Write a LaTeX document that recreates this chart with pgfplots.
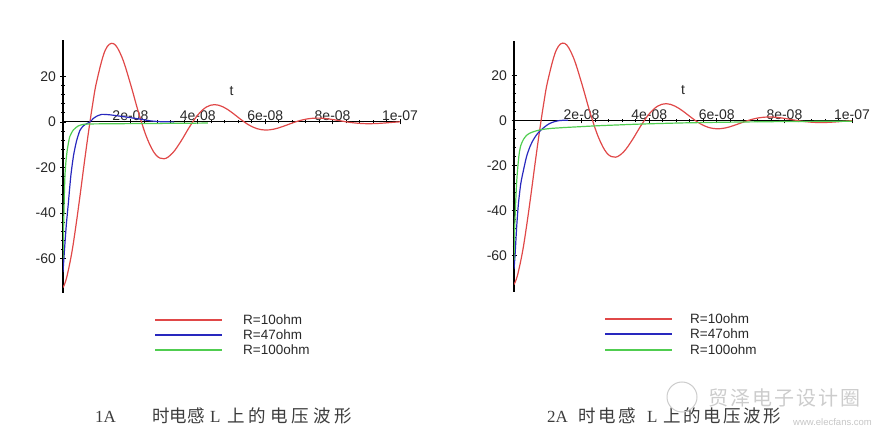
\documentclass[border=0pt]{standalone}
\usepackage{fontspec}
\setmainfont{Liberation Serif}
\newfontfamily\arial{Liberation Sans}
\newfontfamily\cjk{Noto Sans CJK SC}
\usepackage{pgfplots}
\usepackage{pgfplotstable}
\pgfplotsset{compat=1.18}

\definecolor{cred}{RGB}{224,72,72}
\definecolor{cblue}{RGB}{40,40,190}
\definecolor{cgreen}{RGB}{80,205,80}
\definecolor{txt}{RGB}{40,40,40}
\definecolor{capc}{RGB}{60,60,60}

% R = 10 ohm (same curve in both plots), t in s, v in V
\pgfplotstableread{
t v
0 -72.8
0.1e-8 -68.9
0.25e-8 -58.4
0.375e-8 -46.5
0.5e-8 -33.0
0.625e-8 -18.8
0.75e-8 -5.2
0.875e-8 7.3
1.0e-8 17.8
1.25e-8 31.4
1.5e-8 34.4
1.75e-8 28.4
2.0e-8 16.8
2.25e-8 3.7
2.5e-8 -7.4
2.75e-8 -14.4
3.0e-8 -16.2
3.25e-8 -13.7
3.5e-8 -8.5
3.75e-8 -2.3
4.0e-8 3.05
4.25e-8 6.5
4.5e-8 7.6
4.75e-8 6.6
5.0e-8 4.27
5.25e-8 1.38
5.5e-8 -1.22
5.75e-8 -2.94
6.0e-8 -3.57
6.25e-8 -3.2
6.5e-8 -2.13
6.75e-8 -0.78
7.0e-8 0.47
7.25e-8 1.32
7.5e-8 1.67
7.75e-8 1.54
8.0e-8 1.06
8.25e-8 0.43
8.5e-8 -0.17
8.75e-8 -0.59
9.0e-8 -0.78
9.25e-8 -0.74
9.5e-8 -0.53
9.75e-8 -0.23
10.0e-8 0.05
}\redR

% case 1A
\pgfplotstableread{
t v
0 -66
0.05e-8 -55
0.1e-8 -45
0.16e-8 -35.5
0.23e-8 -24
0.31e-8 -15
0.4e-8 -8.5
0.5e-8 -3.8
0.6e-8 -1.8
0.7e-8 -0.8
0.8e-8 0
0.9e-8 1.5
1.0e-8 2.5
1.15e-8 3.3
1.4e-8 3.1
1.8e-8 2.3
2.3e-8 1.2
2.6e-8 0.45
2.9e-8 0.1
3.3e-8 0
}\blueA

\pgfplotstableread{
t v
0 -60
0.02e-8 -45
0.04e-8 -32
0.06e-8 -23
0.09e-8 -17
0.13e-8 -12
0.2e-8 -6.5
0.31e-8 -3.5
0.45e-8 -1.8
0.6e-8 -1.1
0.8e-8 -0.9
1.5e-8 -0.8
2.5e-8 -0.7
3.5e-8 -0.6
4.3e-8 -0.5
}\greenA

% case 2A
\pgfplotstableread{
t v
0 -66
0.03e-8 -60
0.08e-8 -47
0.13e-8 -37
0.2e-8 -28
0.28e-8 -22
0.37e-8 -16
0.47e-8 -11.6
0.57e-8 -8.5
0.67e-8 -6.2
0.77e-8 -4.5
0.87e-8 -3.2
0.97e-8 -2.0
1.07e-8 -1.1
1.2e-8 -0.4
1.3e-8 0
1.45e-8 0.2
1.6e-8 0.2
}\blueB

\pgfplotstableread{
t v
0 -62
0.02e-8 -48
0.05e-8 -36
0.08e-8 -27
0.11e-8 -21
0.15e-8 -15
0.2e-8 -11
0.28e-8 -8.3
0.37e-8 -6.5
0.47e-8 -5.5
0.57e-8 -4.9
0.7e-8 -4.3
0.87e-8 -3.8
1.1e-8 -3.4
1.5e-8 -3.0
2.0e-8 -2.6
2.5e-8 -2.2
3.0e-8 -1.9
3.5e-8 -1.6
4.0e-8 -1.35
5.0e-8 -0.95
6.0e-8 -0.7
7.0e-8 -0.5
8.0e-8 -0.35
9.0e-8 -0.25
10.0e-8 -0.18
}\greenB

\pgfplotsset{
  maple/.style={
    scale only axis,
    axis lines=middle,
    anchor=south west,
    xmin=0, xmax=1e-7,
    scaled x ticks=false,
    xtick={2e-8,4e-8,6e-8,8e-8,1e-7},
    xticklabels={2e-08,4e-08,6e-08,8e-08,1e-07},
    ytick={-60,-40,-20,0,20},
    yticklabels={-60,-40,-20,0,20},
    minor x tick num=4,
    minor y tick num=4,
    tick align=center,
    major tick length=5bp,
    minor tick length=3bp,
    axis line style={-, black, line width=1.1bp},
    every inner x axis line/.append style={-},
    every inner y axis line/.append style={-},
    every tick/.style={black, line width=0.7bp},
    hide obscured x ticks=false,
    hide obscured y ticks=false,
    ticklabel style={font=\arial\fontsize{14bp}{16bp}\selectfont, text=txt},
    xticklabel style={anchor=south},
    yticklabel style={anchor=east, xshift=-1bp},
    xlabel={t},
    xlabel style={at={(axis cs:5e-8,0)}, anchor=base, yshift=26bp,
      font=\arial\fontsize{14bp}{16bp}\selectfont, text=txt},
  },
  curve/.style={line width=1.2bp, smooth, tension=0.6, no marks},
  steep/.style={line width=1.2bp, smooth, tension=0.4, no marks},
}

% legend key: #1 colour, #2 left x of line, #3 line y, #4 text x, #5 label
\newcommand\key[5]{%
  \draw[#1, line width=1.3bp] (#2bp,#3bp) -- ++(67bp,0bp);
  \node[anchor=base west, inner sep=0pt, text=txt,
    font=\arial\fontsize{13.5bp}{15bp}\selectfont] at (#4bp,#3bp-5bp) {#5};}

\begin{document}
\begin{tikzpicture}
\path[use as bounding box] (0bp,0bp) rectangle (887bp,437bp);

\begin{axis}[maple, at={(63bp,144bp)}, width=337bp, height=253bp,
  ymin=-75.2, ymax=36]
  \addplot[curve, cred] table[x=t, y=v] {\redR};
  \addplot[steep, cblue] table[x=t, y=v] {\blueA};
  \addplot[steep, cgreen] table[x=t, y=v] {\greenA};
\end{axis}

\begin{axis}[maple, at={(514bp,145.3bp)}, width=338bp, height=251bp,
  ymin=-76, ymax=35.6]
  \addplot[curve, cred] table[x=t, y=v] {\redR};
  \addplot[steep, cblue] table[x=t, y=v] {\blueB};
  \addplot[steep, cgreen] table[x=t, y=v] {\greenB};
\end{axis}

% legends
\key{cred}{155}{117}{243}{R=10ohm}
\key{cblue}{155}{102}{243}{R=47ohm}
\key{cgreen}{155}{87}{243}{R=100ohm}
\key{cred}{605}{118}{690}{R=10ohm}
\key{cblue}{605}{103}{690}{R=47ohm}
\key{cgreen}{605}{87}{690}{R=100ohm}

% captions
\begin{scope}[every node/.style={anchor=base west, inner sep=0pt, text=capc}]
  \node[font=\fontsize{17bp}{20bp}\selectfont] at (95bp,15bp) {1A};
  \node[font=\cjk\fontsize{17.5bp}{20bp}\selectfont] at (152bp,15bp) {时电感};
  \node[font=\fontsize{17bp}{20bp}\selectfont] at (210bp,15bp) {L};
  \node[font=\cjk\fontsize{17.5bp}{20bp}\selectfont] at (227bp,15bp)
    {上\kern4bp 的\kern4bp 电\kern4bp 压\kern4bp 波\kern4bp 形};

  \node[font=\fontsize{17bp}{20bp}\selectfont] at (547bp,15bp) {2A};
  \node[font=\cjk\fontsize{17.5bp}{20bp}\selectfont] at (578bp,15bp)
    {时\kern2.5bp 电\kern2.5bp 感};
  \node[font=\fontsize{17bp}{20bp}\selectfont] at (647bp,15bp) {L};
  \node[font=\cjk\fontsize{17.5bp}{20bp}\selectfont] at (663bp,15bp)
    {上\kern2.5bp 的\kern2.5bp 电\kern2.5bp 压\kern2.5bp 波\kern2.5bp 形};

  % watermark
  \node[font=\cjk\fontsize{20bp}{22bp}\selectfont, text=gray!40] at (708bp,32bp)
    {贸\kern2bp 泽\kern2bp 电\kern2bp 子\kern2bp 设\kern2bp 计\kern2bp 圈};
  \node[font=\arial\fontsize{9.5bp}{11bp}\selectfont, text=gray!45] at (793bp,12bp)
    {www.elecfans.com};
\end{scope}
\draw[gray!40, line width=1bp] (682bp,40bp) circle (15bp);
\end{tikzpicture}
\end{document}
